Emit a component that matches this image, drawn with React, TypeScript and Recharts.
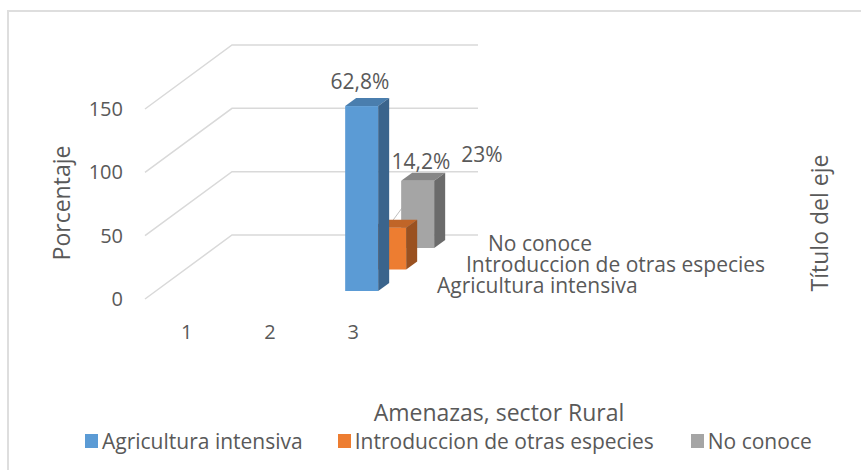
import { BarChart, Bar, XAxis, YAxis, CartesianGrid, Legend } from 'recharts';

const categories = ['1', '2', '3'];
const seriesNames = ['Agricultura intensiva', 'Introduccion de otras especies', 'No conoce'];
const agricultura = [null, null, 146];
const introduccion = [null, null, 33];
const noConoce = [null, null, 53];
const dataLabels = ['62,8%', '14,2%', '23%'];
const colors = ['#5b9bd5', '#ed7d31', '#a5a5a5'];
const sideColors = ['#3a648c', '#9a5120', '#6b6b6b'];
const topColors = ['#4a7eae', '#c06528', '#868686'];
const yTicks = [0, 50, 100, 150];

const data = categories.map((cat, i) => ({
  cat,
  agricultura: agricultura[i],
  introduccion: introduccion[i],
  noConoce: noConoce[i],
}));

const FONT = '"Open Sans", sans-serif';
const TEXT = '#595959';

// fake 3D: each series sits further back along the depth axis
const Box3D = (idx: number) => (props: any) => {
  const { x, y, width, height } = props;
  if (!height) return null;
  const x0 = x + 8.5 + idx * 28;
  const y0 = y - 8 - idx * 21.5;
  const dx = 11;
  const dy = 8;
  return (
    <g>
      <rect x={x0} y={y0} width={width} height={height} fill={colors[idx]} />
      <polygon points={`${x0},${y0} ${x0 + dx},${y0 - dy} ${x0 + width + dx},${y0 - dy} ${x0 + width},${y0}`} fill={topColors[idx]} />
      <polygon points={`${x0 + width},${y0} ${x0 + width + dx},${y0 - dy} ${x0 + width + dx},${y0 + height - dy} ${x0 + width},${y0 + height}`} fill={sideColors[idx]} />
    </g>
  );
};

const WallLine = (props: any) => {
  const { x1, y1, x2 } = props;
  return (
    <polyline
      points={`${x1},${y1} ${x1 + 87},${y1 - 64} ${x2 + 83},${y1 - 64}`}
      fill="none"
      stroke="#d9d9d9"
      strokeWidth={1.5}
    />
  );
};

const LegendRow = () => (
  <div style={{ display: 'flex', fontFamily: FONT, fontSize: 21, color: TEXT, lineHeight: '24px', whiteSpace: 'nowrap' }}>
    {seriesNames.map((name, i) => (
      <span key={name} style={{ display: 'flex', alignItems: 'center', marginRight: i === 0 ? 35 : 37 }}>
        <span style={{ width: 13, height: 14, background: colors[i], marginRight: 4 }} />
        {name}
      </span>
    ))}
  </div>
);

export default function App() {
  return (
    <div style={{ position: 'absolute', left: 0, top: 0, width: 861, height: 470, background: '#fff', overflow: 'hidden' }}>
      <div style={{ position: 'absolute', left: 7, top: 10, width: 900, height: 500, border: '2px solid #dedede' }} />
      <BarChart
        width={861}
        height={470}
        data={data}
        barSize={33}
        barGap={-33}
        margin={{ top: 109, right: 466, bottom: 117, left: 85 }}
        style={{ position: 'absolute', left: 0, top: 0 }}
      >
        <CartesianGrid vertical={false} horizontal={WallLine} />
        <XAxis
          dataKey="cat"
          axisLine={false}
          tickLine={false}
          tickMargin={20}
          tick={{ fontSize: 20, fill: TEXT, fontFamily: FONT }}
        />
        <YAxis
          width={60}
          domain={[0, 150]}
          ticks={yTicks}
          axisLine={false}
          tickLine={false}
          tickMargin={16}
          tick={{ fontSize: 20, fill: TEXT, fontFamily: FONT }}
        />
        <Bar dataKey="noConoce" shape={Box3D(2)} isAnimationActive={false} />
        <Bar dataKey="introduccion" shape={Box3D(1)} isAnimationActive={false} />
        <Bar dataKey="agricultura" shape={Box3D(0)} isAnimationActive={false} />
        <Legend
          content={<LegendRow />}
          wrapperStyle={{ position: 'absolute', left: 85, top: 429, width: 770, height: 24 }}
        />
        <g fontFamily={FONT} fill={TEXT} fontSize={21}>
          <text x={360} y={89} textAnchor="middle">{dataLabels[0]}</text>
          <text x={421} y={169} textAnchor="middle">{dataLabels[1]}</text>
          <text x={482} y={162} textAnchor="middle">{dataLabels[2]}</text>
          <line x1={388} y1={227} x2={402} y2={208} stroke="#bfbfbf" strokeWidth={1} />
          <text x={488} y={251}>{seriesNames[2]}</text>
          <text x={466} y={272}>{seriesNames[1]}</text>
          <text x={437} y={293}>{seriesNames[0]}</text>
          <text x={499} y={421} textAnchor="middle" fontSize={23}>Amenazas, sector Rural</text>
          <text x={0} y={0} transform="translate(70,203) rotate(-90)" textAnchor="middle" fontSize={23}>Porcentaje</text>
          <text x={0} y={0} transform="translate(828,223) rotate(-90)" textAnchor="middle" fontSize={23}>Título del eje</text>
        </g>
      </BarChart>
    </div>
  );
}
